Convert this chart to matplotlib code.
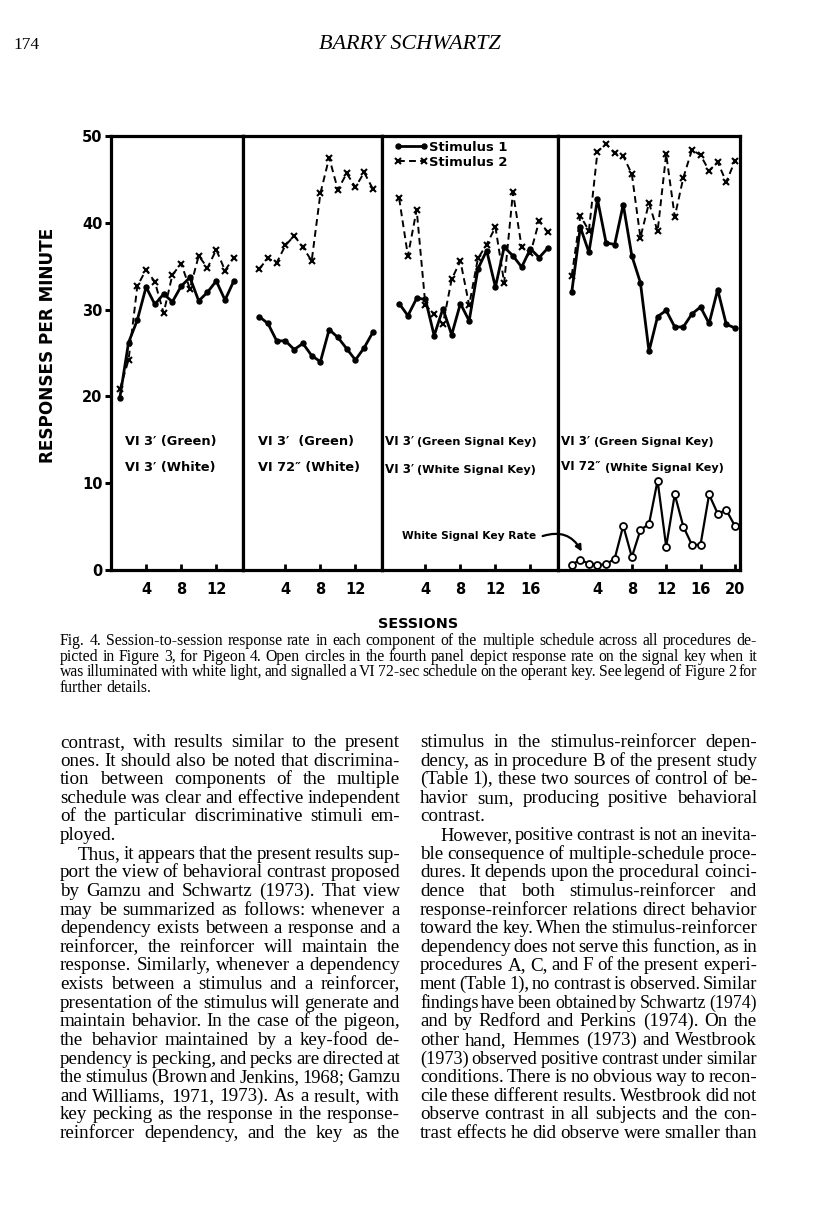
import numpy as np
import matplotlib
matplotlib.use("Agg")
import matplotlib.pyplot as plt
from matplotlib.patches import FancyArrowPatch

W, H = 816, 1207

# ---- data (responses per minute) ----
p1_sessions = list(range(1, 15))
p1_stim1 = [19.8, 26.2, 28.8, 32.6, 30.6, 31.8, 30.9, 32.7, 33.7, 31.0, 32.0, 33.3, 31.1, 33.3]
p1_stim2 = [20.8, 24.2, 32.7, 34.6, 33.2, 29.6, 34.0, 35.3, 32.4, 36.2, 34.8, 36.9, 34.5, 36.0]

p2_sessions = list(range(1, 15))
p2_stim1 = [29.2, 28.4, 26.4, 26.4, 25.4, 26.1, 24.7, 24.0, 27.7, 26.8, 25.5, 24.2, 25.6, 27.4]
p2_stim2 = [34.7, 35.9, 35.4, 37.4, 38.5, 37.2, 35.6, 43.4, 47.5, 43.8, 45.7, 44.1, 45.8, 43.9]

p3_sessions = list(range(1, 19))
p3_stim1 = [30.7, 29.3, 31.3, 31.2, 27.0, 30.1, 27.1, 30.7, 28.7, 34.7, 36.8, 32.6,
            37.2, 36.2, 34.9, 37.0, 36.0, 37.1]
p3_stim2 = [42.8, 36.2, 41.5, 30.5, 29.5, 28.3, 33.5, 35.6, 30.5, 35.9, 37.5, 39.5,
            33.1, 43.5, 37.2, 36.5, 40.2, 38.9]

p4_sessions = list(range(1, 21))
p4_stim1 = [32.0, 39.5, 36.6, 42.7, 37.7, 37.5, 42.1, 36.2, 33.1, 25.2, 29.2, 29.9,
            28.0, 28.0, 29.5, 30.3, 28.4, 32.3, 28.3, 27.9]
p4_stim2 = [33.9, 40.8, 39.1, 48.2, 49.1, 48.0, 47.7, 45.6, 38.3, 42.3, 39.0, 47.9,
            40.7, 45.2, 48.4, 47.8, 46.0, 47.0, 44.7, 47.1]
p4_white_key = [0.6, 1.2, 0.7, 0.6, 0.65, 1.3, 5.1, 1.5, 4.6, 5.3, 10.3, 2.7,
                8.7, 5.0, 2.9, 2.9, 8.7, 6.5, 6.9, 5.1]

y_ticks = [0, 10, 20, 30, 40, 50]
x_ticks = [[4, 8, 12], [4, 8, 12], [4, 8, 12, 16], [4, 8, 12, 16, 20]]

caption = [
    "Fig. 4. Session-to-session response rate in each component of the multiple schedule across all procedures de-",
    "picted in Figure 3, for Pigeon 4. Open circles in the fourth panel depict response rate on the signal key when it",
    "was illuminated with white light, and signalled a VI 72-sec schedule on the operant key. See legend of Figure 2 for",
    "further details.",
]
left_col = [
    "contrast, with results similar to the present",
    "ones. It should also be noted that discrimina-",
    "tion between components of the multiple",
    "schedule was clear and effective independent",
    "of the particular discriminative stimuli em-",
    "ployed.",
    "Thus, it appears that the present results sup-",
    "port the view of behavioral contrast proposed",
    "by Gamzu and Schwartz (1973). That view",
    "may be summarized as follows: whenever a",
    "dependency exists between a response and a",
    "reinforcer, the reinforcer will maintain the",
    "response. Similarly, whenever a dependency",
    "exists between a stimulus and a reinforcer,",
    "presentation of the stimulus will generate and",
    "maintain behavior. In the case of the pigeon,",
    "the behavior maintained by a key-food de-",
    "pendency is pecking, and pecks are directed at",
    "the stimulus (Brown and Jenkins, 1968; Gamzu",
    "and Williams, 1971, 1973). As a result, with",
    "key pecking as the response in the response-",
    "reinforcer dependency, and the key as the",
]
right_col = [
    "stimulus in the stimulus-reinforcer depen-",
    "dency, as in procedure B of the present study",
    "(Table 1), these two sources of control of be-",
    "havior sum, producing positive behavioral",
    "contrast.",
    "However, positive contrast is not an inevita-",
    "ble consequence of multiple-schedule proce-",
    "dures. It depends upon the procedural coinci-",
    "dence that both stimulus-reinforcer and",
    "response-reinforcer relations direct behavior",
    "toward the key. When the stimulus-reinforcer",
    "dependency does not serve this function, as in",
    "procedures A, C, and F of the present experi-",
    "ment (Table 1), no contrast is observed. Similar",
    "findings have been obtained by Schwartz (1974)",
    "and by Redford and Perkins (1974). On the",
    "other hand, Hemmes (1973) and Westbrook",
    "(1973) observed positive contrast under similar",
    "conditions. There is no obvious way to recon-",
    "cile these different results. Westbrook did not",
    "observe contrast in all subjects and the con-",
    "trast effects he did observe were smaller than",
]

fig = plt.figure(figsize=(W / 100, H / 100), dpi=100)
fig.patch.set_facecolor("white")
rend = fig.canvas.get_renderer()
SERIF = "Liberation Serif"
BOLD = dict(family="DejaVu Sans", fontweight="bold")


def put(x, y, s, **kw):
    # x, y in pixels, y measured from the top of the page
    return fig.text(x / W, 1 - y / H, s, **kw)


def text_w(s, **kw):
    t = fig.text(0, 0, s, **kw)
    w = t.get_window_extent(renderer=rend).width
    t.remove()
    return w


def fit(s, width, **kw):
    return 10 * width / text_w(s, fontsize=10, **kw)


def block_ratios(lines, width, ends, indented, indent):
    sp = text_w("x x", fontsize=10, family=SERIF) - text_w("xx", fontsize=10, family=SERIF)
    ratios = []
    for i, ln in enumerate(lines):
        if i in ends:
            continue
        ws = [text_w(w, fontsize=10, family=SERIF) for w in ln.split()]
        nat = sum(ws) + sp * (len(ws) - 1)
        ratios.append((width - (indent if i in indented else 0)) / nat)
    return ratios


def set_block(lines, x0, x1, y0, step, size, ends=(), indented=(), indent=0):
    sp = text_w("x x", fontsize=size, family=SERIF) - text_w("xx", fontsize=size, family=SERIF)
    for i, ln in enumerate(lines):
        words = ln.split()
        left = x0 + (indent if i in indented else 0)
        fs = size
        ws = [text_w(w, fontsize=fs, family=SERIF) for w in words]
        min_gap = sp * 0.6
        need = sum(ws) + min_gap * (len(words) - 1)
        if i not in ends and need > x1 - left:
            # squeeze this line a little so it still fits the column
            fs = size * (x1 - left) / need
            ws = [text_w(w, fontsize=fs, family=SERIF) for w in words]
        if i in ends or len(words) == 1:
            gap = sp
        else:
            gap = (x1 - left - sum(ws)) / (len(words) - 1)
        x = left
        for w, wd in zip(words, ws):
            put(x, y0 + i * step, w, fontsize=fs, family=SERIF, va="baseline")
            x += wd + gap


# ---- page header ----
put(13, 49, "174", fontsize=12.5, family=SERIF, va="baseline")
put(410, 49, "BARRY SCHWARTZ", fontsize=fit("BARRY SCHWARTZ", 182, family=SERIF, style="italic"),
    family=SERIF, style="italic", ha="center", va="baseline")

# ---- chart panels ----
Y0, Y1 = 570, 136
panels = [
    (111, 243, (0.0, 15.05), p1_sessions, p1_stim1, p1_stim2),
    (243, 382, (-0.85, 15.04), p2_sessions, p2_stim1, p2_stim2),
    (382, 558, (-0.96, 19.15), p3_sessions, p3_stim1, p3_stim2),
    (558, 740, (-0.6, 20.6), p4_sessions, p4_stim1, p4_stim2),
]
axes = []
for i, (x0, x1, xlim, sess, s1, s2) in enumerate(panels):
    ax = fig.add_axes([x0 / W, 1 - Y0 / H, (x1 - x0) / W, (Y0 - Y1) / H])
    ax.set_xlim(*xlim)
    ax.set_ylim(0, 50)
    for sp in ax.spines.values():
        sp.set_linewidth(2.3)
    h1, = ax.plot(sess, s1, "-", color="black", lw=2.0, marker="o", ms=3.6, clip_on=False)
    h2, = ax.plot(sess, s2, "--", color="black", lw=1.4, marker="x", ms=4.5, mew=1.5,
                  dashes=(3.5, 2.2), clip_on=False)
    ax.set_xticks(x_ticks[i], [str(t) for t in x_ticks[i]], fontsize=10.5, fontweight="bold",
                  family="DejaVu Sans")
    ax.tick_params(axis="x", direction="in", length=4, width=2, pad=9)
    if i == 0:
        ax.set_yticks(y_ticks, [str(t) for t in y_ticks], fontsize=10.5, fontweight="bold",
                      family="DejaVu Sans")
        ax.tick_params(axis="y", direction="out", length=4, width=2.2, pad=2)
    else:
        ax.set_yticks([])
    axes.append((ax, h1, h2))

ax4 = axes[3][0]
ax4.plot(p4_sessions, p4_white_key, "-", color="black", lw=1.6, marker="o", ms=5,
         mfc="white", mec="black", mew=1.3, clip_on=False)

# legend in third panel
ax3, h1, h2 = axes[2]
leg_size = fit("Stimulus 1", 78, **BOLD)
ax3.legend([h1, h2], ["Stimulus 1", "Stimulus 2"], loc="upper left",
           bbox_to_anchor=(394 / W, 1 - 141 / H), bbox_transform=fig.transFigure,
           frameon=False, numpoints=2, handlelength=2.6, handletextpad=0.1,
           borderpad=0, borderaxespad=0, labelspacing=0.15,
           prop=dict(family="DejaVu Sans", weight="bold", size=leg_size))

# panel condition labels
big = fit("VI 3\u2032 (Green)", 92, **BOLD)
small = fit("(Green Signal Key)", 119, **BOLD)
vi3 = fit("VI 3\u2032", 29, **BOLD)
put(125, 441, "VI 3\u2032 (Green)", fontsize=big, va="center", **BOLD)
put(125, 468, "VI 3\u2032 (White)", fontsize=big, va="center", **BOLD)
put(258, 441, "VI 3\u2032  (Green)", fontsize=big, va="center", **BOLD)
put(258, 468, "VI 72\u2033 (White)", fontsize=big, va="center", **BOLD)
put(385, 441, "VI 3\u2032", fontsize=vi3, va="center", **BOLD)
put(417, 442, "(Green Signal Key)", fontsize=small, va="center", **BOLD)
put(385, 469, "VI 3\u2032", fontsize=vi3, va="center", **BOLD)
put(417, 470, "(White Signal Key)", fontsize=small, va="center", **BOLD)
put(561, 441, "VI 3\u2032", fontsize=vi3, va="center", **BOLD)
put(594, 442, "(Green Signal Key)", fontsize=small, va="center", **BOLD)
put(561, 467, "VI 72\u2033", fontsize=vi3, va="center", **BOLD)
put(605, 468, "(White Signal Key)", fontsize=small, va="center", **BOLD)

put(402, 536, "White Signal Key Rate", fontsize=fit("White Signal Key Rate", 133, **BOLD),
    va="center", **BOLD)
fig.add_artist(FancyArrowPatch(posA=(540 / W, 1 - 537 / H), posB=(583 / W, 1 - 554 / H),
                               transform=fig.transFigure, connectionstyle="arc3,rad=-0.45",
                               arrowstyle="-|>", mutation_scale=9, lw=1.6, color="black"))

put(48, 345, "RESPONSES PER MINUTE", fontsize=fit("RESPONSES PER MINUTE", 236, **BOLD),
    rotation=90, ha="center", va="center", **BOLD)
put(418, 624, "SESSIONS", fontsize=fit("SESSIONS", 80, **BOLD), ha="center", va="center", **BOLD)

# ---- caption and body text ----
cap_size = 10 * float(np.median(block_ratios(caption, 697, {3}, set(), 0)))
set_block(caption, 60, 757, 645, 15.6, cap_size, ends={3})

body_r = (block_ratios(left_col, 340, {5}, {6}, 18) + block_ratios(right_col, 337, {4}, {5}, 20))
body_size = 10 * float(np.median(body_r))
set_block(left_col, 60, 400, 747, 18.62, body_size, ends={5}, indented={6}, indent=18)
set_block(right_col, 420, 757, 747, 18.62, body_size, ends={4}, indented={5}, indent=20)

fig.savefig("out.png", dpi=100, facecolor="white")
